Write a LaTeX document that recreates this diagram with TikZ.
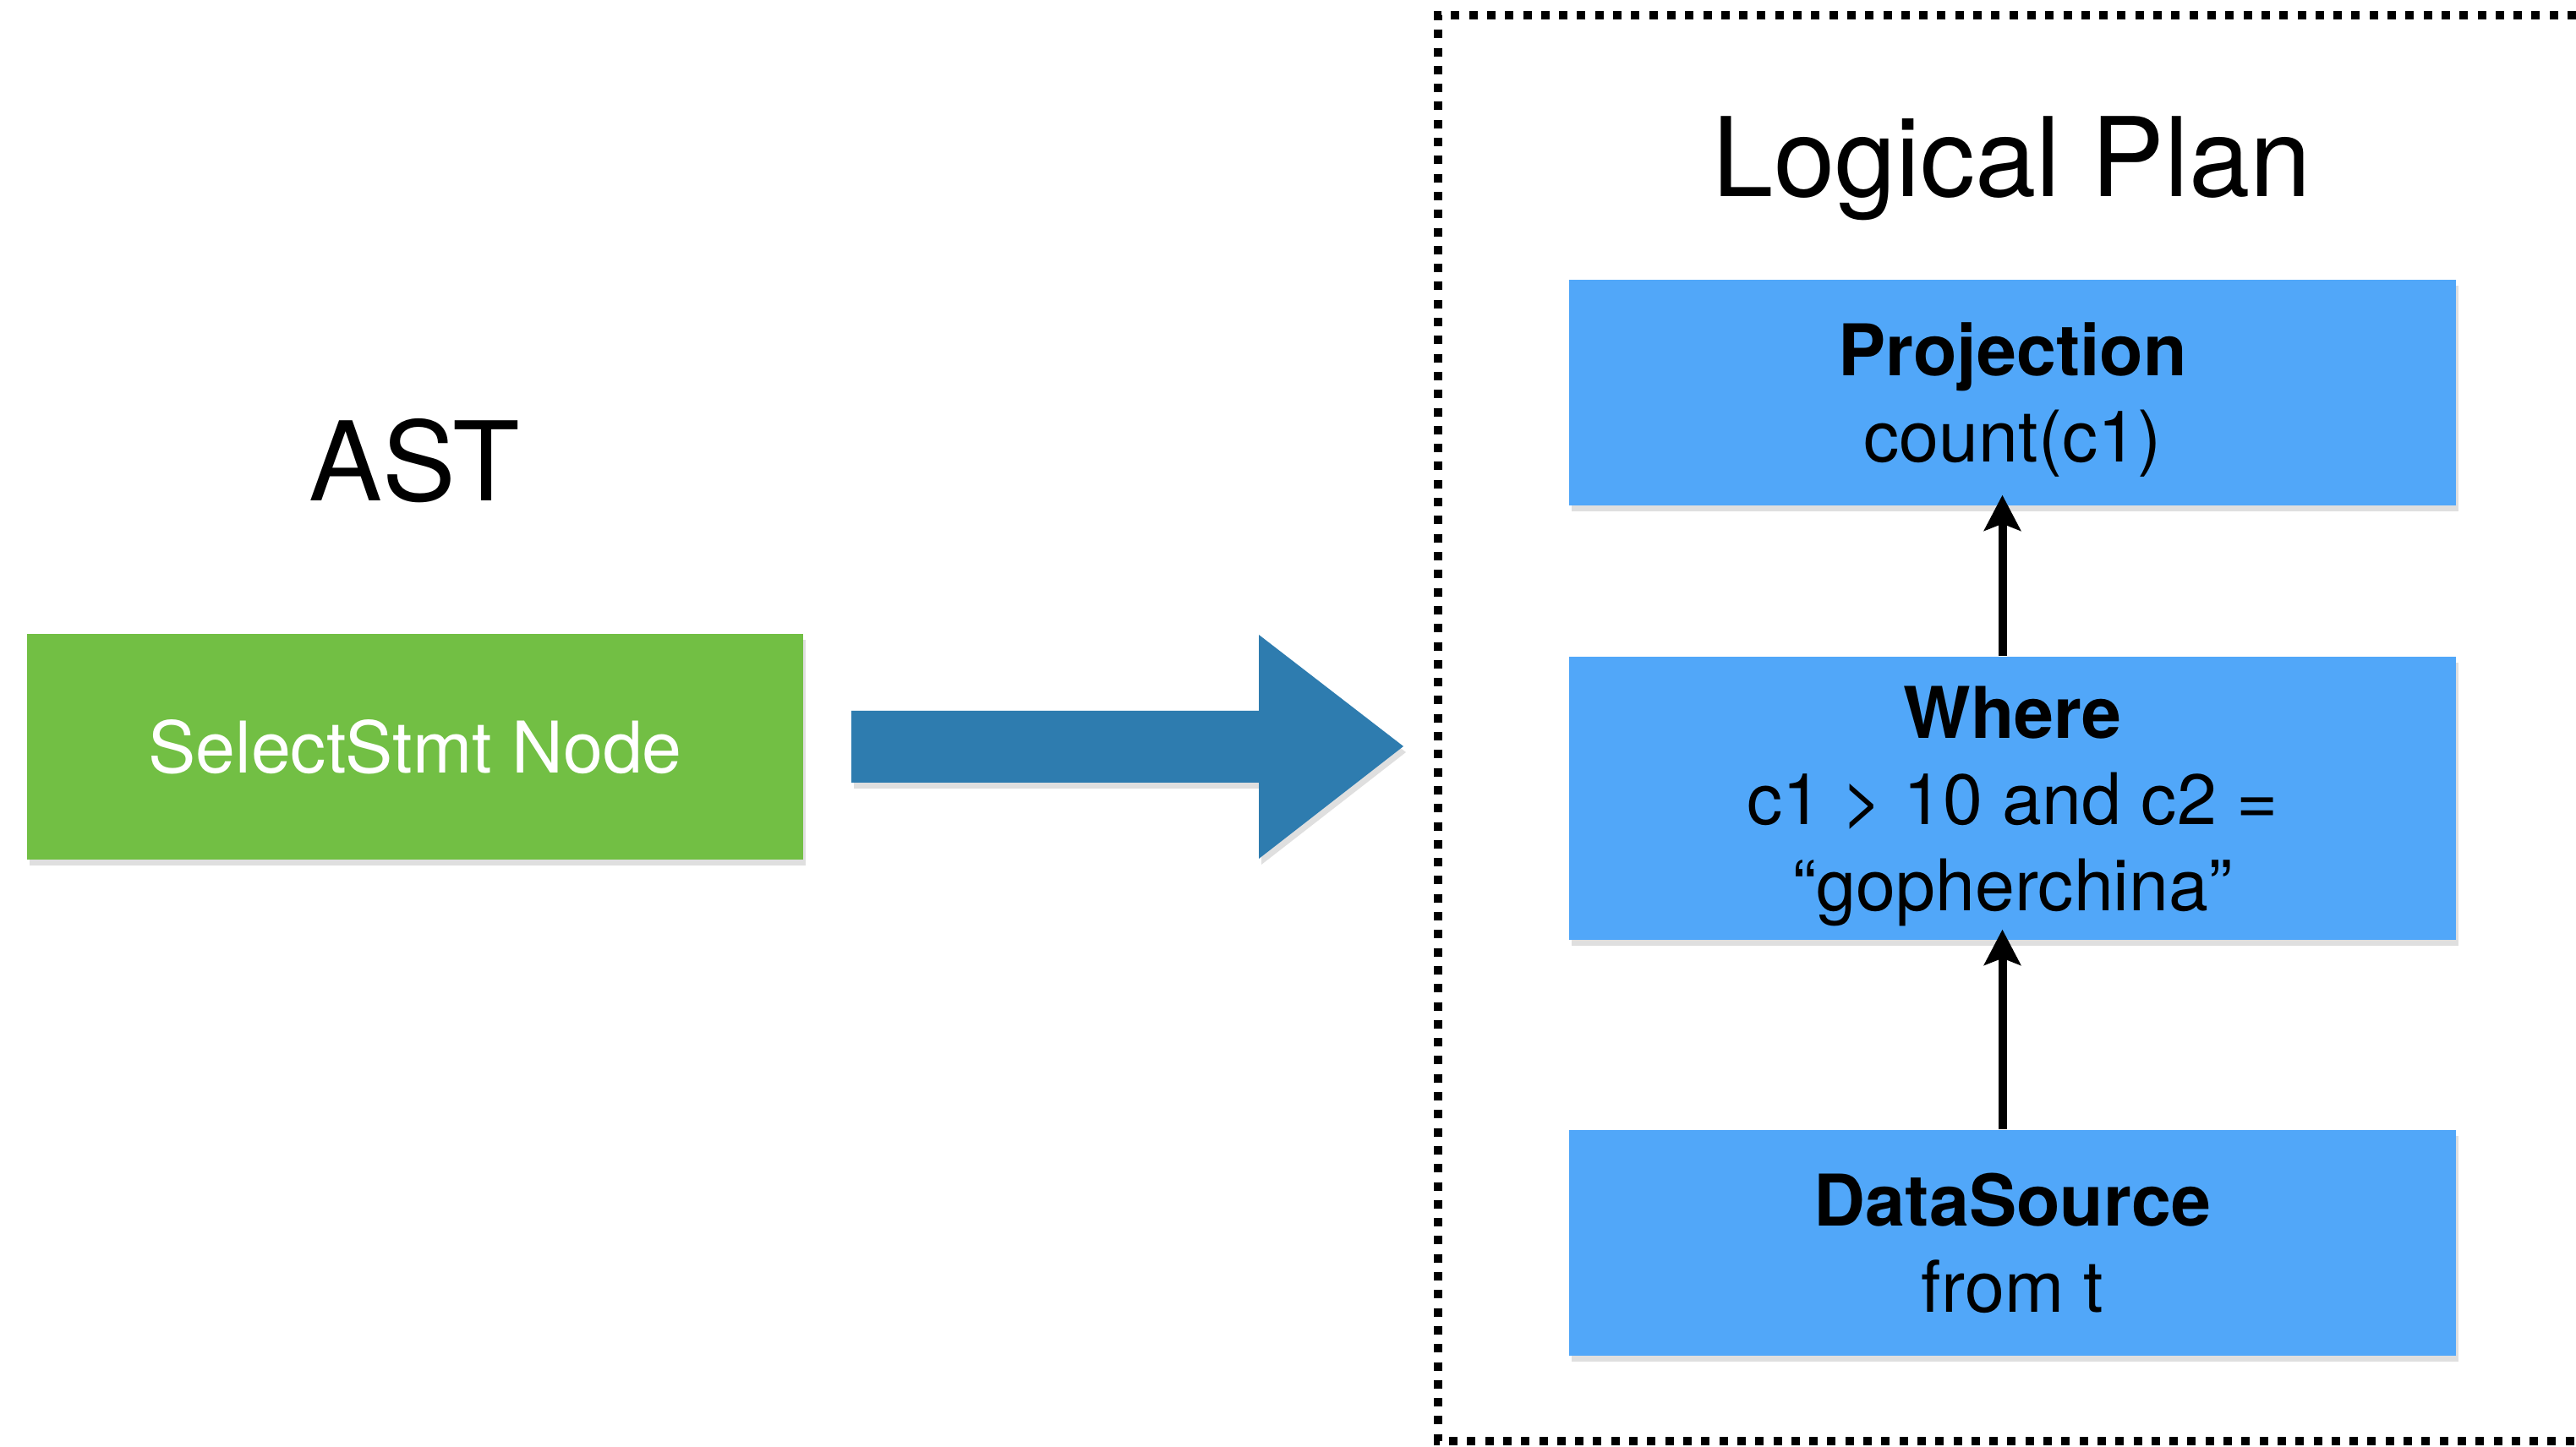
\documentclass[tikz,border=0pt]{standalone}
\usepackage{fontspec}
\setmainfont{TeX Gyre Heros}
\usetikzlibrary{arrows.meta,shadows}

\begin{document}
\begin{tikzpicture}[
    title/.style={font=\fontsize{37}{44}\selectfont, anchor=base},
    shade/.style={drop shadow={shadow xshift=0.03cm, shadow yshift=-0.07cm, opacity=0.25}},
    astbox/.style={rectangle, minimum width=9.18cm, minimum height=2.67cm,
                   font=\fontsize{24}{29}\selectfont, text=white, shade,
                   fill={rgb,255: red,114; green,191; blue,68}},
    op/.style={rectangle, minimum width=10.49cm, minimum height=2.67cm, align=center,
               text depth=0pt, font=\fontsize{24}{29}\selectfont, shade,
               fill={rgb,255: red,81; green,167; blue,249}},
    flow/.style={-{Stealth[length=0.42cm, width=0.43cm, inset=0.08cm]}, line width=0.1cm,
                 shorten >=-0.13cm},
    frame/.style={line width=0.1cm, dash pattern=on 0.1cm off 0.113cm}
]
\useasboundingbox (0,0) rectangle (30.47,17.11);

% left side
\node (ast) [title] at (4.90, 11.18) {AST};
\node (select) [astbox] at (4.91, 8.275) {SelectStmt Node};

% big arrow
\fill [shade, fill={rgb,255: red,46; green,124; blue,175}]
    (10.07,8.70) -- (14.89,8.70) -- (14.89,9.60) -- (16.60,8.28)
    -- (14.89,6.95) -- (14.89,7.85) -- (10.07,7.85) -- cycle;

% logical plan
\draw [frame] (30.47,16.93) -- (17.01,16.93) -- (17.01,0.06) -- (30.47,0.06);
\node (plan) [title] at (23.80, 14.78) {Logical Plan};
\node (proj) [op] at (23.805, 12.465) {\textbf{Projection}\\count(c1)};
\node (where) [op, minimum height=3.35cm] at (23.805, 7.665)
    {\textbf{Where}\\c1 \textgreater{} 10 and c2 =\\“gopherchina”};
\node (source) [op] at (23.805, 2.405) {\textbf{DataSource}\\from t};

\draw [flow] ([xshift=-0.12cm]where.north) -- ([xshift=-0.12cm]proj.south);
\draw [flow] ([xshift=-0.12cm]source.north) -- ([xshift=-0.12cm]where.south);
\end{tikzpicture}
\end{document}
